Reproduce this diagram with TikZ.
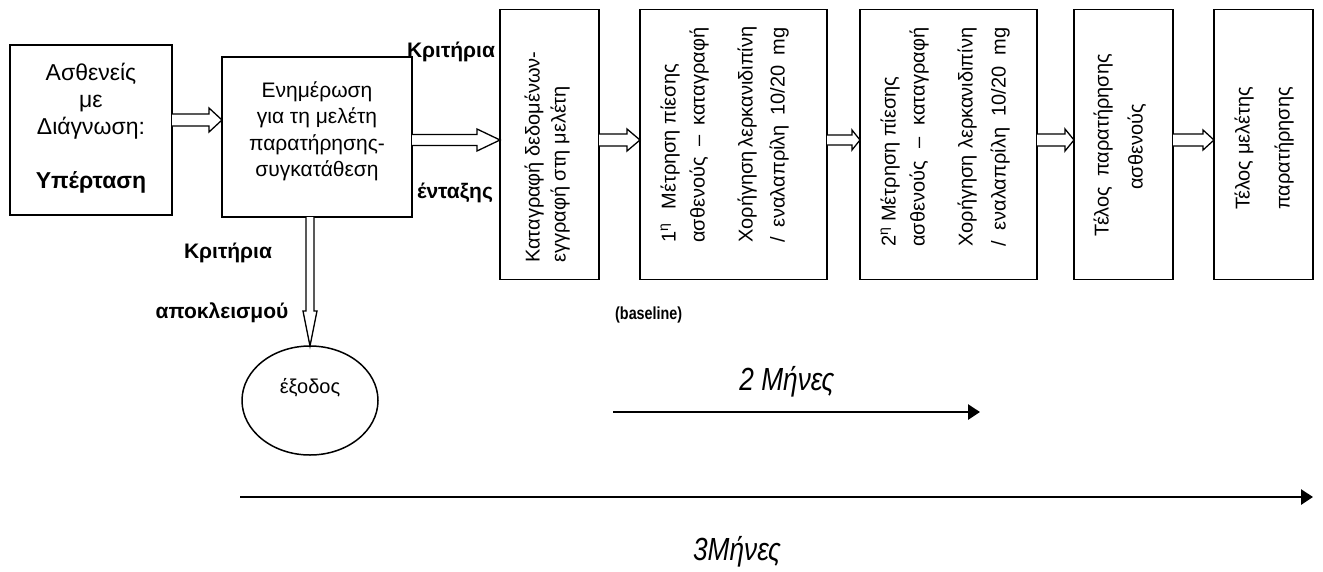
\documentclass[tikz,border=0pt]{standalone}
\usepackage{fontspec}
\setmainfont{Liberation Sans}
\newfontfamily\narrowsf[FakeStretch=0.82]{Liberation Sans}
\usetikzlibrary{arrows.meta,shapes.geometric,calc}
\tikzset{
  box/.style={draw,line width=1.5pt,inner sep=0pt,outer sep=0pt},
  vtext/.style={rotate=90,inner sep=0pt,font=\fontsize{20}{24}\selectfont},
  htext/.style={inner sep=0pt,align=center},
  blbl/.style={inner sep=0pt,font=\bfseries\fontsize{21}{24}\selectfont},
  blockline/.style={draw,line width=1.3pt,fill=white,line join=miter},
  timeline/.style={line width=2.8pt,-{Triangle[length=12pt,width=15pt]}},
  bigit/.style={inner sep=0pt,font=\narrowsf\itshape\fontsize{32}{36}\selectfont}
}
\newcommand\harrow[5]{\draw[blockline] let \p1=(#1), \p2=(#2) in
  (\x1,\y1+#3) -- (\x2-#5,\y1+#3) -- (\x2-#5,\y1+#4) -- (\x2,\y1) --
  (\x2-#5,\y1-#4) -- (\x2-#5,\y1-#3) -- (\x1,\y1-#3);}
\newcommand\varrow[5]{\draw[blockline] let \p1=(#1), \p2=(#2) in
  (\x1+#3,\y1) -- (\x1+#3,\y2+#5) -- (\x1+#4,\y2+#5) -- (\x1,\y2) --
  (\x1-#4,\y2+#5) -- (\x1-#3,\y2+#5) -- (\x1-#3,\y1);}
\begin{document}
\begin{tikzpicture}[x=1pt,y=1pt]
\useasboundingbox[fill=white] (0,0) rectangle (1323,-571);
% boxes
\node[box,minimum width=162pt,minimum height=170pt] (b1) at (91,-130) {};
\node[box,minimum width=190pt,minimum height=160pt] (b2) at (317,-137) {};
\node[box,minimum width=99pt,minimum height=270pt] (b3) at (549.5,-144.5) {};
\node[box,minimum width=187pt,minimum height=270pt] (b4) at (733.5,-144.5) {};
\node[box,minimum width=177pt,minimum height=270pt] (b5) at (948.5,-144.5) {};
\node[box,minimum width=99pt,minimum height=270pt] (b6) at (1123.5,-144.5) {};
\node[box,minimum width=99pt,minimum height=270pt] (b7) at (1263.5,-144.5) {};
\node[draw,line width=1.5pt,ellipse,minimum width=136pt,minimum height=109pt,inner sep=0pt,outer sep=0pt] (ex) at (310,-400.5) {};
% texts in boxes
\node[htext,font=\fontsize{23}{27}\selectfont] (t1) at (91,-128)
  {Ασθενείς\\με\\Διάγνωση:\\[27pt]\textbf{Υπέρταση}};
\node[htext,font=\fontsize{21}{26.5}\selectfont] (t2) at (317,-131.5)
  {Ενημέρωση\\για τη μελέτη\\παρατήρησης-\\συγκατάθεση};
\node[vtext,anchor=mid west] (t3a) at (537,-263) {Καταγραφή δεδομένων-};
\node[vtext,anchor=mid west] (t3b) at (563,-263) {εγγραφή στη μελέτη};
\node[vtext,anchor=mid west] (t4a) at (673,-243) {1\textsuperscript{η}\hspace{14pt}Μέτρηση πίεσης};
\node[vtext,anchor=mid west] (t4b) at (702,-243) {\makebox[215pt][s]{ασθενούς – καταγραφή}};
\node[vtext,anchor=mid west] (t4c) at (750,-243) {\makebox[215pt][s]{Χορήγηση λερκανιδιπίνη}};
\node[vtext,anchor=mid west] (t4d) at (782,-243) {\makebox[215pt][s]{/ εναλαπρίλη 10/20 mg}};
\node[vtext,anchor=mid west] (t5a) at (893,-247) {2\textsuperscript{η} Μέτρηση πίεσης};
\node[vtext,anchor=mid west] (t5b) at (922,-247) {\makebox[219pt][s]{ασθενούς – καταγραφή}};
\node[vtext,anchor=mid west] (t5c) at (970,-247) {\makebox[219pt][s]{Χορήγηση λερκανιδιπίνη}};
\node[vtext,anchor=mid west] (t5d) at (1003,-247) {\makebox[219pt][s]{/ εναλαπρίλη 10/20 mg}};
\node[vtext,anchor=mid] (t6a) at (1106,-145) {Τέλος\hspace{10pt}παρατήρησης};
\node[vtext,anchor=mid] (t6b) at (1140,-147) {ασθενούς};
\node[vtext,anchor=mid west] (t7a) at (1247,-210) {Τέλος μελέτης};
\node[vtext,anchor=mid west] (t7b) at (1287,-210) {παρατήρησης};
\node[inner sep=0pt,font=\fontsize{20}{24}\selectfont] (t8) at (310,-388) {έξοδος};
% labels
\node[blbl] (k1) at (451,-52) {Κριτήρια};
\node[blbl] (k2) at (455,-193) {ένταξης};
\node[blbl] (k3) at (228,-253) {Κριτήρια};
\node[blbl] (k4) at (222,-313) {αποκλεισμού};
\node[inner sep=0pt,anchor=west,font=\narrowsf\bfseries\fontsize{17.5}{20}\selectfont] (bl) at (615,-315) {(baseline)};
% block arrows
\coordinate (ya) at (0,-120);
\coordinate (yb) at (0,-140);
\harrow{b1.east |- ya}{b2.west |- ya}{6pt}{12pt}{13pt}
\harrow{b2.east |- yb}{b3.west |- yb}{5.5pt}{11pt}{23pt}
\harrow{b3.east |- yb}{b4.west |- yb}{6pt}{11pt}{13pt}
\harrow{b4.east |- yb}{b5.west |- yb}{5pt}{10pt}{8pt}
\harrow{b5.east |- yb}{b6.west |- yb}{6pt}{11pt}{9pt}
\harrow{b6.east |- yb}{b7.west |- yb}{6pt}{10pt}{11pt}
\varrow{b2.south -| ex.north}{ex.north}{4pt}{7pt}{35pt}
% timelines
\coordinate (s2) at (613,-412);
\coordinate (e2) at (980,-412);
\coordinate (s3) at (240,-497);
\coordinate (e3) at (1313,-497);
\draw[timeline] (s2) -- (e2);
\draw[timeline] (s3) -- (e3);
\node[bigit] (m2) at (787,-382) {2 Μήνες};
\node[bigit] (m3) at (737,-552) {3Μήνες};
\end{tikzpicture}
\end{document}
